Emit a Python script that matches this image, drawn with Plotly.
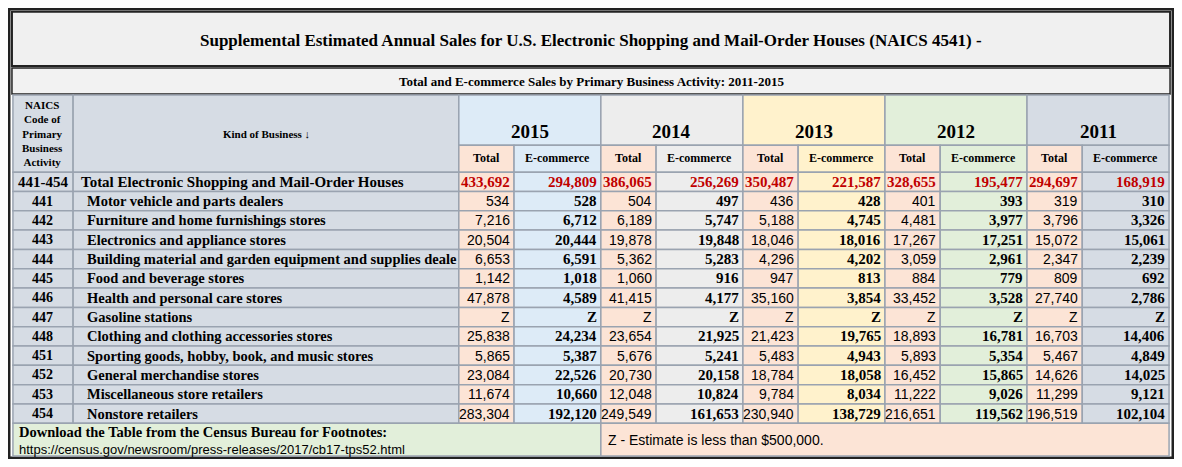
import plotly.graph_objects as go

title = "Supplemental Estimated Annual Sales for U.S. Electronic Shopping and Mail-Order Houses (NAICS 4541) -"
subtitle = "Total and E-commerce Sales by Primary Business Activity: 2011-2015"
years = ["2015", "2014", "2013", "2012", "2011"]
year_colors = ["#ddebf7", "#ededed", "#fff2cc", "#e2efda", "#d6dce4"]

naics = ["441-454", "441", "442", "443", "444", "445", "446", "447", "448", "451", "452", "453", "454"]
kinds = ["Total Electronic Shopping and Mail-Order Houses", "Motor vehicle and parts dealers",
         "Furniture and home furnishings stores", "Electronics and appliance stores",
         "Building material and garden equipment and supplies deale", "Food and beverage stores",
         "Health and personal care stores", "Gasoline stations", "Clothing and clothing accessories stores",
         "Sporting goods, hobby, book, and music stores", "General merchandise stores",
         "Miscellaneous store retailers", "Nonstore retailers"]

total_2015 = ["433,692", "534", "7,216", "20,504", "6,653", "1,142", "47,878", "Z", "25,838", "5,865", "23,084", "11,674", "283,304"]
ecom_2015 = ["294,809", "528", "6,712", "20,444", "6,591", "1,018", "4,589", "Z", "24,234", "5,387", "22,526", "10,660", "192,120"]
total_2014 = ["386,065", "504", "6,189", "19,878", "5,362", "1,060", "41,415", "Z", "23,654", "5,676", "20,730", "12,048", "249,549"]
ecom_2014 = ["256,269", "497", "5,747", "19,848", "5,283", "916", "4,177", "Z", "21,925", "5,241", "20,158", "10,824", "161,653"]
total_2013 = ["350,487", "436", "5,188", "18,046", "4,296", "947", "35,160", "Z", "21,423", "5,483", "18,784", "9,784", "230,940"]
ecom_2013 = ["221,587", "428", "4,745", "18,016", "4,202", "813", "3,854", "Z", "19,765", "4,943", "18,058", "8,034", "138,729"]
total_2012 = ["328,655", "401", "4,481", "17,267", "3,059", "884", "33,452", "Z", "18,893", "5,893", "16,452", "11,222", "216,651"]
ecom_2012 = ["195,477", "393", "3,977", "17,251", "2,961", "779", "3,528", "Z", "16,781", "5,354", "15,865", "9,026", "119,562"]
total_2011 = ["294,697", "319", "3,796", "15,072", "2,347", "809", "27,740", "Z", "16,703", "5,467", "14,626", "11,299", "196,519"]
ecom_2011 = ["168,919", "310", "3,326", "15,061", "2,239", "692", "2,786", "Z", "14,406", "4,849", "14,025", "9,121", "102,104"]
totals = [total_2015, total_2014, total_2013, total_2012, total_2011]
ecoms = [ecom_2015, ecom_2014, ecom_2013, ecom_2012, ecom_2011]

footer_left = "Download the Table from the Census Bureau for Footnotes:"
footer_link = "https://census.gov/newsroom/press-releases/2017/cb17-tps52.html"
footer_right = "Z - Estimate is less than $500,000."

SERIF = "Liberation Serif"
NARROW = "Liberation Sans Narrow, Liberation Sans"
LINE = "#9aa3b0"
PEACH = "#fce4d6"
HEAD = "#d6dce4"
RED = "#c00000"

shapes, ann = [], []

def box(x0, y0, x1, y1, fill, lc=LINE, lw=1.5):
    shapes.append(dict(type="rect", x0=x0, y0=y0, x1=x1, y1=y1, fillcolor=fill,
                       line=dict(color=lc, width=lw), layer="below"))

def text(x, y, s, size, xa="center", bold=True, color="black", font=SERIF):
    ann.append(dict(x=x, y=y, text=f"<b>{s}</b>" if bold else s, showarrow=False, xanchor=xa,
                    yanchor="middle", font=dict(family=font, size=size, color=color)))

# frame, title, subtitle
box(1, 1, 1181, 466, "white", "#222", 3)
box(4, 4, 1178, 60, "#f0f0f0", "#222", 2)
text(591, 34, title, 17)
box(4, 62, 1178, 89, "#f2f2f2", "#222", 1.5)
text(591, 76, subtitle, 13)

# header
top, sub, rtop, rh = 90, 142, 170, 20
box(5, top, 66, rtop, HEAD)
text(35, 130, "NAICS<br>Code of<br>Primary<br>Business<br>Activity", 11)
box(66, top, 457, rtop, HEAD)
text(262, 130, "Kind of Business ↓", 11)
x = 457
xs = []
for yr, col in zip(years, year_colors):
    box(x, top, x + 144, sub, col)
    text(x + 72, 128, yr, 19)
    box(x, sub, x + 56, rtop, PEACH)
    text(x + 28, 155, "Total", 12)
    box(x + 56, sub, x + 144, rtop, col)
    text(x + 100, 155, "E-commerce", 12)
    xs.append(x)
    x += 144

# rows
for i in range(len(naics)):
    y0 = rtop + i * rh
    yc = y0 + rh / 2
    first = i == 0
    box(5, y0, 66, y0 + rh, HEAD)
    text(35, yc, naics[i], 15 if first else 14)
    box(66, y0, 457, y0 + rh, HEAD)
    text(72 if first else 78, yc, kinds[i], 15 if first else 14.5, xa="left")
    for k, xg in enumerate(xs):
        box(xg, y0, xg + 56, y0 + rh, PEACH)
        box(xg + 56, y0, xg + 144, y0 + rh, year_colors[k])
        if first:
            text(xg + 54, yc, totals[k][i], 15, xa="right", color=RED)
            text(xg + 142, yc, ecoms[k][i], 15, xa="right", color=RED)
        else:
            text(xg + 54, yc, totals[k][i], 14, xa="right", bold=False, font=NARROW)
            text(xg + 142, yc, ecoms[k][i], 15, xa="right")

# footer
fy = rtop + len(naics) * rh
box(5, fy, 601, 464, "#e2efda")
text(9, fy + 9, footer_left, 14.5, xa="left")
text(9, fy + 27, footer_link, 13, xa="left", bold=False, font=NARROW)
box(601, fy, 1177, 464, PEACH)
text(606, fy + 17, footer_right, 14, xa="left", bold=False, font=NARROW)

fig = go.Figure()
# the page body keeps an 8px margin, so the figure is drawn a little smaller than the window
fig.update_layout(width=1166, height=451, margin=dict(l=0, r=0, t=0, b=0),
                  plot_bgcolor="white", paper_bgcolor="white", shapes=shapes, annotations=ann,
                  showlegend=False)
fig.update_xaxes(range=[0, 1182], visible=False, fixedrange=True)
fig.update_yaxes(range=[467, 0], visible=False, fixedrange=True)
fig.write_html("out.html")
